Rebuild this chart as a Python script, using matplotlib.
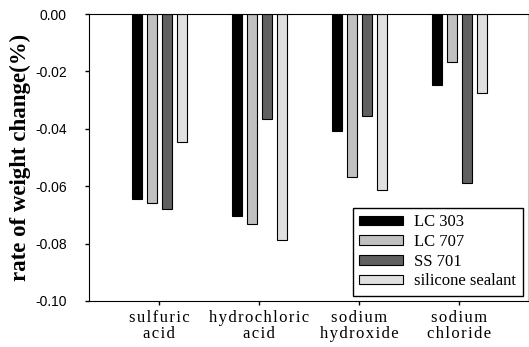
import numpy as np
import matplotlib.pyplot as plt

# data
categories = ['sulfuric\nacid', 'hydrochloric\nacid', 'sodium\nhydroxide', 'sodium\nchloride']
series_names = ['LC 303', 'LC 707', 'SS 701', 'silicone sealant']
lc303 = [-0.0646, -0.0703, -0.0406, -0.0246]
lc707 = [-0.0660, -0.0733, -0.0568, -0.0168]
ss701 = [-0.0679, -0.0365, -0.0355, -0.0590]
silicone = [-0.0445, -0.0787, -0.0613, -0.0276]
values = [lc303, lc707, ss701, silicone]
colors = ['#000000', '#c0c0c0', '#606060', '#e0e0e0']


def spaced(s):
    # the original tick labels are letter-spaced
    return '\n'.join('\u200a'.join(line) for line in s.split('\n'))


fig = plt.figure(figsize=(5.29, 3.47), dpi=100)
ax = fig.add_axes([89/529, 46/347, 439/529, 287/347])

x = np.arange(len(categories))
offsets = [-0.225, -0.075, 0.075, 0.225]
for vals, off, c, name in zip(values, offsets, colors, series_names):
    ax.bar(x + off, vals, width=0.1, color=c, edgecolor='black', linewidth=0.8, label=name)

ax.set_xlim(-0.7, 3.69)
ax.set_ylim(-0.10, 0.0)
ax.set_yticks([0.0, -0.02, -0.04, -0.06, -0.08, -0.10])
ax.set_yticklabels(['0.00', '-0.02', '-0.04', '-0.06', '-0.08', '-0.10'],
                   fontfamily='Liberation Sans', fontsize=10)
ax.set_xticks(x)
ax.set_xticklabels([spaced(c) for c in categories], fontfamily='Liberation Serif',
                   fontsize=12, linespacing=1.0)
ax.tick_params(direction='out', length=3, width=1)
ax.tick_params(axis='y', pad=13)
ax.spines['right'].set_color('#cccccc')
ax.set_ylabel('rate of weight change(%)', fontfamily='Liberation Serif',
              fontweight='bold', fontsize=16.5, labelpad=3)

leg = ax.legend(loc='lower right', prop={'family': 'Liberation Serif', 'size': 12},
                fancybox=False, edgecolor='black', framealpha=1,
                handlelength=2.6, handleheight=0.5, borderaxespad=0.3,
                labelspacing=0.22, handletextpad=0.7)
leg.get_frame().set_linewidth(1)

fig.savefig('out.png', dpi=100)
